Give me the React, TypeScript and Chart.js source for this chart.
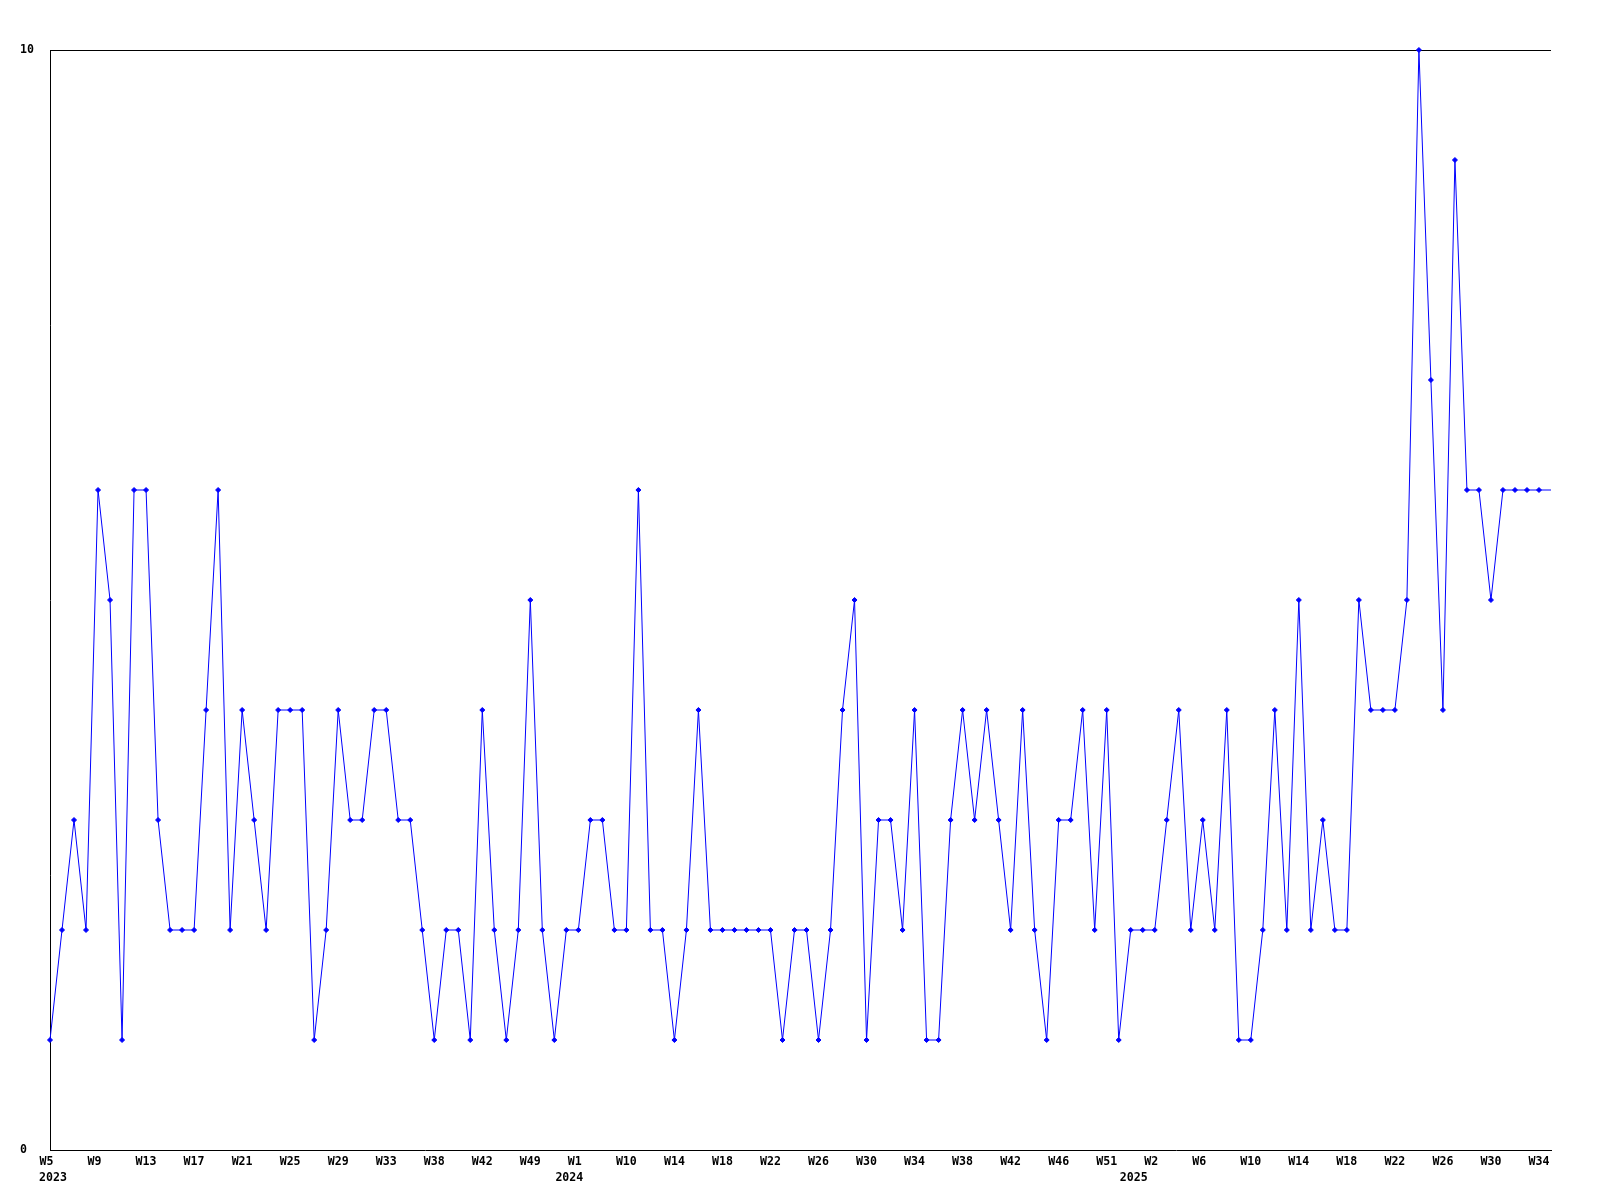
import { useEffect, useRef } from 'react';
import { Chart, registerables } from 'chart.js';

Chart.register(...registerables);

// Week numbers of each sample, per year
const weeks2023 = [5, 6, 7, 8, 9, 10, 11, 12, 13, 14, 15, 16, 17, 18, 19, 20, 21, 22, 23, 24, 25, 26, 27, 28, 29, 30, 31, 32, 33, 34, 35, 37, 38, 39, 40, 41, 42, 44, 46, 47, 49, 51, 52];
const weeks2024 = [0, 1, 4, 6, 8, 10, 11, 12, 13, 14, 15, 16, 17, 18, 19, 20, 21, 22, 23, 24, 25, 26, 27, 28, 29, 30, 31, 32, 33, 34, 35, 36, 37, 38, 39, 40, 41, 42, 43, 44, 45, 46, 47, 48, 50, 51, 52];
const weeks2025 = [0, 1, 2, 3, 4, 5, 6, 7, 8, 9, 10, 11, 12, 13, 14, 15, 16, 17, 18, 19, 20, 21, 22, 23, 24, 25, 26, 27, 28, 29, 30, 31, 32, 33, 34, 35];

// Weekly counts
const counts = [
  1, 2, 3, 2, 6, 5, 1, 6, 6, 3,
  2, 2, 2, 4, 6, 2, 4, 3, 2, 4,
  4, 4, 1, 2, 4, 3, 3, 4, 4, 3,
  3, 2, 1, 2, 2, 1, 4, 2, 1, 2,
  5, 2, 1, 2, 2, 3, 3, 2, 2, 6,
  2, 2, 1, 2, 4, 2, 2, 2, 2, 2,
  2, 1, 2, 2, 1, 2, 4, 5, 1, 3,
  3, 2, 4, 1, 1, 3, 4, 3, 4, 3,
  2, 4, 2, 1, 3, 3, 4, 2, 4, 1,
  2, 2, 2, 3, 4, 2, 3, 2, 4, 1,
  1, 2, 4, 2, 5, 2, 3, 2, 2, 5,
  4, 4, 4, 5, 10, 7, 4, 9, 6, 6,
  5, 6, 6, 6, 6, 6,
];

const yTicks = [0, 10];
const labelEvery = 4;

const years: number[] = [
  ...weeks2023.map(() => 2023),
  ...weeks2024.map(() => 2024),
  ...weeks2025.map(() => 2025),
];
const weeks: number[] = [...weeks2023, ...weeks2024, ...weeks2025];
const categories = weeks.map((w, i) => `${years[i]}-W${w}`);

const tickFont = { family: 'DejaVu Sans Mono', size: 11.6, weight: 'bold' as const, lineHeight: 1.36 };

export default function App() {
  const ref = useRef<HTMLCanvasElement>(null);

  useEffect(() => {
    if (!ref.current) return;
    const chart = new Chart(ref.current, {
      type: 'line',
      data: {
        labels: categories,
        datasets: [
          {
            data: counts,
            xAxisID: 'x',
            yAxisID: 'y',
            borderColor: '#0000ff',
            borderWidth: 1,
            backgroundColor: '#0000ff',
            pointBackgroundColor: '#0000ff',
            pointBorderColor: '#0000ff',
            pointBorderWidth: 1,
            pointStyle: 'rectRot',
            pointRadius: (ctx: any) => (ctx.dataIndex === counts.length - 1 ? 0 : 2.5),
            tension: 0,
            fill: false,
            clip: 6,
          },
        ],
      },
      options: {
        responsive: false,
        animation: false,
        events: [],
        layout: { padding: { left: 12, right: 41, top: 42, bottom: 0 } },
        plugins: { legend: { display: false }, tooltip: { enabled: false } },
        scales: {
          x: {
            type: 'category',
            position: 'bottom',
            weight: 0,
            offset: false,
            grid: { display: false, drawTicks: false },
            border: { display: true, color: '#000', width: 1 },
            ticks: {
              autoSkip: false,
              maxRotation: 0,
              minRotation: 0,
              align: 'start',
              labelOffset: -10.5,
              padding: 4,
              color: '#000',
              font: tickFont,
              callback: (_v: any, i: number) => (i % labelEvery === 0 ? `W${weeks[i]}` : null),
            },
            afterFit: (s: any) => {
              s.height = 16;
            },
          },
          x2: {
            type: 'category',
            position: 'bottom',
            weight: 1,
            offset: false,
            grid: { display: false, drawTicks: false },
            border: { display: false },
            ticks: {
              autoSkip: false,
              maxRotation: 0,
              minRotation: 0,
              align: 'center',
              labelOffset: 3,
              padding: 4,
              color: '#000',
              font: tickFont,
              callback: (_v: any, i: number) =>
                i === 0 || years[i] !== years[i - 1] ? String(years[i]) : null,
            },
            afterFit: (s: any) => {
              s.height = 26;
            },
          },
          y: {
            min: yTicks[0],
            max: yTicks[yTicks.length - 1],
            afterBuildTicks: (s: any) => {
              s.ticks = yTicks.map((v) => ({ value: v }));
            },
            grid: {
              drawTicks: false,
              lineWidth: 1,
              color: (ctx: any) => (ctx.tick && ctx.tick.value === 10 ? '#000' : 'rgba(0,0,0,0)'),
            },
            border: { display: true, color: '#000', width: 1 },
            ticks: {
              crossAlign: 'far',
              padding: 0,
              color: '#000',
              font: tickFont,
            },
            afterFit: (s: any) => {
              s.width = 30;
            },
          },
        },
      },
    } as any);
    return () => chart.destroy();
  }, []);

  return (
    <div style={{ width: 1584, height: 1184 }}>
      <canvas ref={ref} width={1584} height={1184} style={{ display: 'block' }} />
    </div>
  );
}
